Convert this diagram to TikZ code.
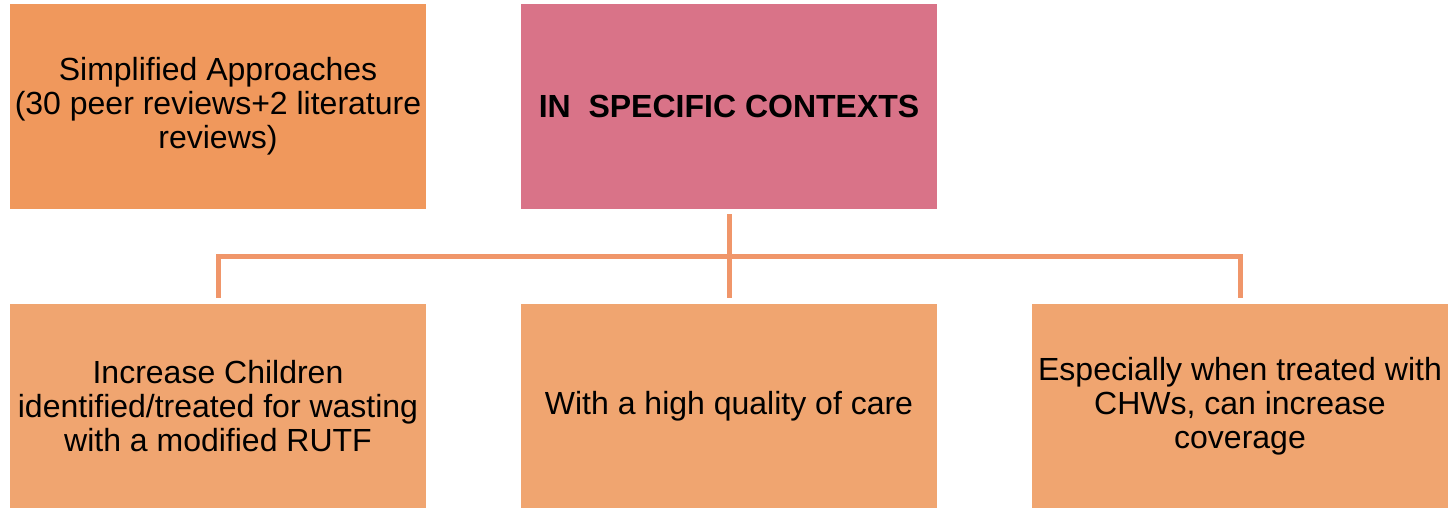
\documentclass[tikz,border=0pt]{standalone}
\usepackage{fontspec}
\setmainfont{Liberation Sans}
\definecolor{boxA}{HTML}{F0985C}
\definecolor{boxP}{HTML}{D97388}
\definecolor{boxB}{HTML}{F0A570}
\definecolor{conncol}{HTML}{F0966A}
\begin{document}
\begin{tikzpicture}[x=1pt,y=-1pt,
  card/.style={minimum width=416pt,minimum height=205pt,inner sep=0pt,align=center,
    font=\fontsize{32}{34}\selectfont,text=black},
  conn/.style={draw=conncol,line width=5pt}]
\useasboundingbox (0,0) rectangle (1449,508);
\node[card,fill=boxA] (simp) at (218,106.5) {Simplified Approaches\\(30 peer reviews+2 literature\\reviews)};
\node[card,fill=boxP,font=\fontsize{32}{34}\selectfont\bfseries] (ctx) at (729,106.5) {IN\ \ SPECIFIC CONTEXTS};
\node[card,fill=boxB,minimum height=204pt] (b1) at (218,406) {Increase Children\\identified/treated for wasting\\with a modified RUTF};
\node[card,fill=boxB,minimum height=204pt] (b2) at (729,406) {With a high quality of care};
\node[card,fill=boxB,minimum height=204pt] (b3) at (1240,406) {Especially when treated with\\CHWs, can increase\\coverage};
\coordinate (bus) at (729,256);
\draw[conn] ([yshift=-5pt]ctx.south) -- ([yshift=6pt]b2.north);
\draw[conn] ([yshift=6pt]b1.north) |- (bus) -| ([yshift=6pt]b3.north);
\end{tikzpicture}
\end{document}
